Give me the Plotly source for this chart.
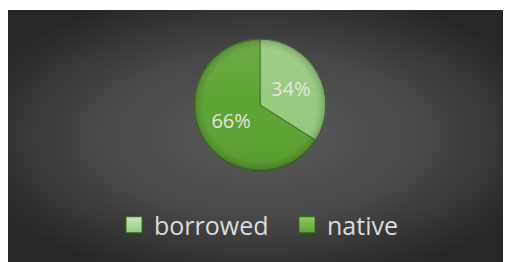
import base64
import plotly.graph_objects as go

labels = ["borrowed", "native"]
values = [34, 66]
colors = ["#96ca7e", "#5ea332"]
legend_top = ["#c8e8b8", "#8fd060"]

# page body has an 8px margin: figure coords = screen coords - 8
W, H = 503, 254
OFF = 8

bg_svg = '''<svg xmlns="http://www.w3.org/2000/svg" width="505" height="252" viewBox="0 0 505 252">
<defs><radialGradient id="g" cx="50%" cy="50%" r="60%">
<stop offset="0" stop-color="#5c5c5c"/><stop offset="0.55" stop-color="#474747"/><stop offset="1" stop-color="#262626"/></radialGradient></defs>
<rect width="505" height="252" fill="url(#g)"/></svg>'''
bg_uri = "data:image/svg+xml;base64," + base64.b64encode(bg_svg.encode()).decode()

rim_svg = '''<svg xmlns="http://www.w3.org/2000/svg" width="200" height="200" viewBox="0 0 200 200">
<defs><radialGradient id="r" cx="50%" cy="50%" r="50%">
<stop offset="0" stop-color="#000" stop-opacity="0"/>
<stop offset="0.86" stop-color="#000" stop-opacity="0"/>
<stop offset="0.96" stop-color="#000" stop-opacity="0.12"/>
<stop offset="1" stop-color="#000" stop-opacity="0.3"/></radialGradient>
<linearGradient id="t" x1="0" y1="0" x2="0" y2="1">
<stop offset="0" stop-color="#fff" stop-opacity="0.10"/>
<stop offset="0.5" stop-color="#fff" stop-opacity="0"/>
<stop offset="1" stop-color="#000" stop-opacity="0.08"/></linearGradient></defs>
<circle cx="100" cy="100" r="100" fill="url(#t)"/>
<circle cx="100" cy="100" r="100" fill="url(#r)"/></svg>'''
rim_uri = "data:image/svg+xml;base64," + base64.b64encode(rim_svg.encode()).decode()

cx, cy, rad = 260 - OFF, 105 - OFF, 66

fig = go.Figure(go.Pie(
    labels=labels, values=values, sort=False, direction="clockwise", rotation=0,
    marker=dict(colors=colors, line=dict(color="#3f6e24", width=1)),
    textinfo="percent", textposition="inside", insidetextorientation="horizontal",
    textfont=dict(family="Open Sans", size=20, color="#e4e4e4"),
    domain=dict(x=[(cx - rad) / W, (cx + rad) / W], y=[1 - (cy + rad) / H, 1 - (cy - rad) / H]),
    hoverinfo="label+percent", showlegend=False,
))

# legend entries (square swatches) matching the slices
for name, col, top in zip(labels, colors, legend_top):
    fig.add_trace(go.Scatter(
        x=[None], y=[None], mode="markers", name=name,
        marker=dict(symbol="square", size=16, color=top,
                    gradient=dict(type="vertical", color=col),
                    line=dict(color="#3a6a22", width=1)),
        hoverinfo="skip",
    ))

fig.update_layout(
    width=W, height=H,
    margin=dict(l=0, r=0, t=0, b=0),
    paper_bgcolor="white",
    plot_bgcolor="rgba(0,0,0,0)",
    xaxis=dict(visible=False, range=[0, 1]),
    yaxis=dict(visible=False, range=[0, 1]),
    showlegend=True,
    legend=dict(orientation="h", x=(287 - OFF) / W, xanchor="center", y=1 - (225 - OFF) / H, yanchor="middle",
                font=dict(family="Open Sans", size=25, color="#dcdcdc"),
                bgcolor="rgba(0,0,0,0)", entrywidth=128, entrywidthmode="pixels",
                itemsizing="trace"),
    images=[
        dict(source=bg_uri, xref="paper", yref="paper", x=0, y=1 - 2 / H,
             sizex=1, sizey=252 / H, sizing="stretch", xanchor="left", yanchor="top", layer="below"),
        dict(source=rim_uri, xref="paper", yref="paper", x=cx / W, y=1 - cy / H,
             sizex=2 * rad / W, sizey=2 * rad / H, sizing="stretch", xanchor="center", yanchor="middle", layer="above"),
    ],
)

fig.write_html("out.html")
